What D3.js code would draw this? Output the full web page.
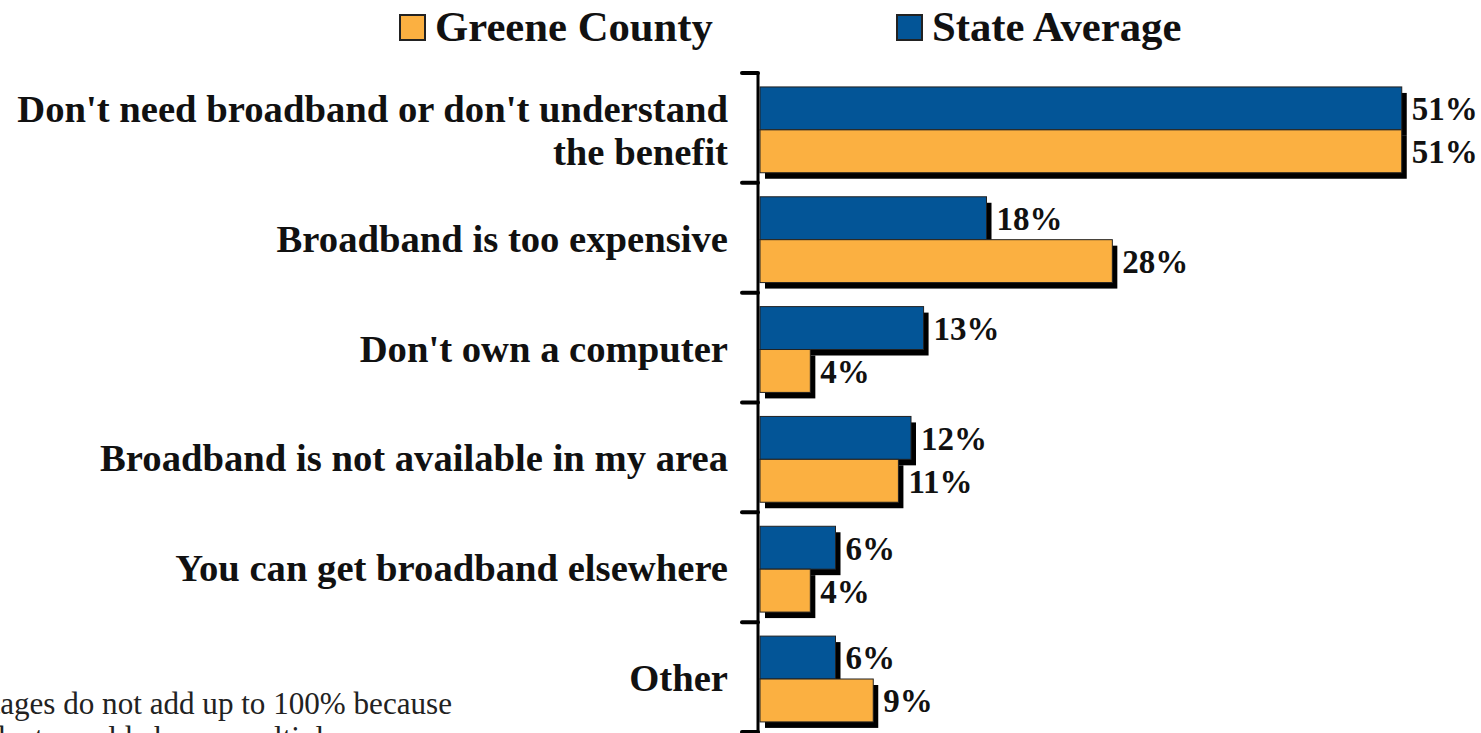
<!DOCTYPE html>
<html><head><meta charset="utf-8">
<script src="https://cdn.jsdelivr.net/npm/d3@7"></script>
<style>body{margin:0;background:#fff;} svg{display:block;}</style>
</head><body>
<svg id="c" width="1481" height="733"></svg>
<script>
const categories = [
  ["Don't need broadband or don't understand", "the benefit"],
  ["Broadband is too expensive"],
  ["Don't own a computer"],
  ["Broadband is not available in my area"],
  ["You can get broadband elsewhere"],
  ["Other"]
];
const seriesNames = ["State Average", "Greene County"];
const stateAverage = [51, 18, 13, 12, 6, 6];
const greeneCounty = [51, 28, 4, 11, 4, 9];
const seriesColors = ["#035597", "#FBB041"];
const legendOrder = ["Greene County", "State Average"];
const footnote = ["Percentages do not add up to 100% because", "respondents could choose multiple answers"];

const svg = d3.select("#c");
const serif = "'Liberation Serif','DejaVu Serif',serif";
const catKeys = categories.map(c => c.join(" "));
const values = {"State Average": stateAverage, "Greene County": greeneCounty};

const y = d3.scaleBand().domain(catKeys).range([73, 732]).padding(0);
const sub = d3.scaleBand().domain(seriesNames).range([0, y.bandwidth()]).paddingInner(0).paddingOuter(0.28).align(0.58);
const x = d3.scaleLinear().domain([0, 60]).range([760, 1515]);
const color = d3.scaleOrdinal().domain(seriesNames).range(seriesColors);

function fit(sel, target) {
  const w = sel.node().getComputedTextLength();
  const fs = parseFloat(sel.attr("font-size"));
  sel.attr("font-size", fs * target / w);
  return fs * target / w;
}

const bars = [];
catKeys.forEach((k, i) => seriesNames.forEach(s => bars.push({k, s, v: values[s][i]})));

// shadows
svg.append("g").selectAll("rect").data(bars).join("rect")
  .attr("x", x(0) + 5).attr("y", d => y(d.k) + sub(d.s) + 6)
  .attr("width", d => x(d.v) - x(0)).attr("height", sub.bandwidth())
  .attr("fill", "#000");
// bars
svg.append("g").selectAll("rect").data(bars).join("rect")
  .attr("x", x(0)).attr("y", d => y(d.k) + sub(d.s))
  .attr("width", d => x(d.v) - x(0)).attr("height", sub.bandwidth())
  .attr("fill", d => color(d.s)).attr("stroke", "#222").attr("stroke-width", 1);

// value labels
svg.append("g").selectAll("text").data(bars).join("text")
  .attr("x", d => x(d.v) + 10).attr("y", d => y(d.k) + sub(d.s) + sub.bandwidth() / 2)
  .attr("dy", "0.36em")
  .attr("font-family", serif).attr("font-weight", "bold").attr("font-size", 33)
  .attr("fill", "#111")
  .text(d => d.v + "%");

// axis
const axisX = 758;
svg.append("line").attr("x1", axisX).attr("x2", axisX).attr("y1", y.range()[0]).attr("y2", 735)
  .attr("stroke", "#000").attr("stroke-width", 3);
const bounds = catKeys.map(k => y(k)).concat([y.range()[1]]);
svg.append("g").selectAll("line").data(bounds).join("line")
  .attr("x1", axisX - 16).attr("x2", axisX).attr("y1", d => d).attr("y2", d => d)
  .attr("stroke", "#000").attr("stroke-width", 4).attr("stroke-linecap", "round");

// category labels
const lab = svg.append("g");
let catFs = null;
categories.forEach((lines, i) => {
  const cy = y(catKeys[i]) + y.bandwidth() / 2;
  lines.forEach((t, j) => {
    const yy = lines.length === 1 ? cy : y(catKeys[i]) + sub(seriesNames[j]) + sub.bandwidth() / 2;
    const tx = lab.append("text").attr("x", 728).attr("y", yy).attr("dy", "0.36em")
      .attr("text-anchor", "end").attr("font-family", serif).attr("font-weight", "bold")
      .attr("font-size", catFs || 34).attr("fill", "#111").text(t);
    if (i === 0 && j === 0) catFs = fit(tx, 711);
  });
});

// legend
const legX = [400, 897];
let legFs = null;
legendOrder.forEach((s, i) => {
  svg.append("rect").attr("x", legX[i]).attr("y", 15).attr("width", 25).attr("height", 25)
    .attr("fill", color(s)).attr("stroke", "#222").attr("stroke-width", 2);
  const t = svg.append("text").attr("x", legX[i] + 35).attr("y", 41)
    .attr("font-family", serif).attr("font-weight", "bold").attr("font-size", legFs || 40)
    .attr("fill", "#111").text(s);
  if (i === 0) legFs = fit(t, 278);
});

// footnote (left part clipped by the picture edge, as in the reference)
const probe = svg.append("text").attr("font-family", serif).attr("font-size", 28)
  .text("ages do not add up to 100% because");
const ffs = fit(probe, 452);
probe.remove();
const f1 = svg.append("text").attr("x", 452).attr("y", 714).attr("text-anchor", "end")
  .attr("font-family", serif).attr("font-size", ffs).attr("fill", "#222").text(footnote[0]);
const startX = 452 - f1.node().getComputedTextLength();
svg.append("text").attr("x", startX).attr("y", 748)
  .attr("font-family", serif).attr("font-size", ffs).attr("fill", "#222").text(footnote[1]);
</script>
</body></html>
